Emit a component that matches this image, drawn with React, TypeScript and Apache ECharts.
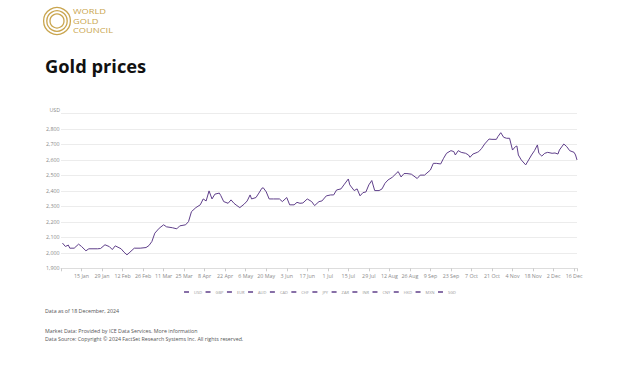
import React, { useEffect, useRef } from 'react';
import * as echarts from 'echarts';

const dates = [
  '2024-01-02', '2024-01-04', '2024-01-06', '2024-01-07', '2024-01-10', '2024-01-13', '2024-01-15', '2024-01-18',
  '2024-01-20', '2024-01-26', '2024-01-28', '2024-01-31', '2024-02-03', '2024-02-05', '2024-02-07', '2024-02-11',
  '2024-02-13', '2024-02-15', '2024-02-17', '2024-02-20', '2024-02-24', '2024-02-28', '2024-03-01', '2024-03-03',
  '2024-03-05', '2024-03-08', '2024-03-11', '2024-03-13', '2024-03-17', '2024-03-20', '2024-03-22', '2024-03-26',
  '2024-03-28', '2024-03-30', '2024-04-02', '2024-04-05', '2024-04-07', '2024-04-09', '2024-04-11', '2024-04-13',
  '2024-04-15', '2024-04-18', '2024-04-19', '2024-04-21', '2024-04-24', '2024-04-26', '2024-04-28', '2024-04-30',
  '2024-05-02', '2024-05-05', '2024-05-07', '2024-05-09', '2024-05-10', '2024-05-13', '2024-05-15', '2024-05-17',
  '2024-05-18', '2024-05-20', '2024-05-22', '2024-05-25', '2024-05-29', '2024-05-31', '2024-06-03', '2024-06-05',
  '2024-06-08', '2024-06-10', '2024-06-12', '2024-06-14', '2024-06-17', '2024-06-20', '2024-06-22', '2024-06-25',
  '2024-06-27', '2024-06-30', '2024-07-03', '2024-07-05', '2024-07-07', '2024-07-10', '2024-07-12', '2024-07-15',
  '2024-07-16', '2024-07-19', '2024-07-21', '2024-07-23', '2024-07-25', '2024-07-27', '2024-07-29', '2024-07-31',
  '2024-08-02', '2024-08-05', '2024-08-07', '2024-08-09', '2024-08-11', '2024-08-14', '2024-08-18', '2024-08-20',
  '2024-08-22', '2024-08-24', '2024-08-27', '2024-08-31', '2024-09-02', '2024-09-05', '2024-09-09', '2024-09-11',
  '2024-09-13', '2024-09-16', '2024-09-18', '2024-09-20', '2024-09-23', '2024-09-25', '2024-09-26', '2024-09-28',
  '2024-09-30', '2024-10-03', '2024-10-05', '2024-10-06', '2024-10-08', '2024-10-11', '2024-10-12', '2024-10-14',
  '2024-10-16', '2024-10-19', '2024-10-21', '2024-10-24', '2024-10-25', '2024-10-27', '2024-10-29', '2024-10-31',
  '2024-11-02', '2024-11-04', '2024-11-06', '2024-11-07', '2024-11-08', '2024-11-10', '2024-11-13', '2024-11-15',
  '2024-11-17', '2024-11-19', '2024-11-21', '2024-11-22', '2024-11-24', '2024-11-26', '2024-11-28', '2024-12-01',
  '2024-12-03', '2024-12-05', '2024-12-06', '2024-12-09', '2024-12-11', '2024-12-13', '2024-12-16', '2024-12-17',
  '2024-12-18',
];

const usdPrices = [
  2063, 2041, 2050, 2030, 2030, 2056, 2041, 2013,
  2026, 2026, 2028, 2052, 2040, 2021, 2045, 2026,
  2004, 1987, 2004, 2030, 2030, 2034, 2047, 2073,
  2127, 2159, 2181, 2168, 2162, 2155, 2174, 2181,
  2202, 2266, 2292, 2310, 2348, 2335, 2400, 2348,
  2379, 2386, 2370, 2331, 2320, 2342, 2320, 2305,
  2292, 2315, 2335, 2374, 2348, 2357, 2386, 2417,
  2420, 2394, 2348, 2348, 2348, 2331, 2357, 2310,
  2310, 2326, 2320, 2322, 2348, 2331, 2305, 2331,
  2335, 2368, 2374, 2374, 2406, 2413, 2439, 2477,
  2439, 2402, 2413, 2368, 2389, 2393, 2439, 2467,
  2402, 2402, 2413, 2449, 2470, 2488, 2525, 2490,
  2512, 2512, 2508, 2480, 2502, 2502, 2535, 2578,
  2578, 2574, 2611, 2643, 2660, 2654, 2632, 2660,
  2649, 2643, 2632, 2617, 2638, 2649, 2654, 2675,
  2703, 2735, 2733, 2733, 2750, 2776, 2746, 2740,
  2740, 2664, 2686, 2690, 2632, 2600, 2568, 2600,
  2632, 2660, 2697, 2643, 2625, 2643, 2649, 2643,
  2645, 2638, 2664, 2703, 2686, 2660, 2649, 2632,
  2600,
];

const currencies = ['USD', 'GBP', 'EUR', 'AUD', 'CAD', 'CHF', 'JPY', 'ZAR', 'INR', 'CNY', 'HKD', 'MXN', 'SGD'];

const yMin = 1900;
const yMax = 2900;
const yStep = 100;

const monthNames = ['Jan', 'Feb', 'Mar', 'Apr', 'May', 'Jun', 'Jul', 'Aug', 'Sep', 'Oct', 'Nov', 'Dec'];
const logoLines = ['WORLD', 'GOLD', 'COUNCIL'];
const titleText = 'Gold prices';
const footerNote = 'Data as of 18 December, 2024';
const sourceLine1 = 'Market Data: Provided by ICE Data Services. More information';
const sourceLine2 = 'Data Source: Copyright \u00a9 2024 FactSet Research Systems Inc. All rights reserved.';

const DAY = 86400000;
const YEAR_START = Date.UTC(2024, 0, 1);
const dayOf = (s: string) => {
  const [y, m, d] = s.split('-').map(Number);
  return Math.round((Date.UTC(y, m - 1, d) - YEAR_START) / DAY);
};
const fmtThousands = (v: number) => String(v).replace(/\B(?=(\d{3})+(?!\d))/g, ',');

const GOLD = '#c9a54e';
const LINE = '#5f3f8a';
const FONT = '"Open Sans", "Noto Sans", sans-serif';

export default function App() {
  const ref = useRef<HTMLDivElement>(null);

  useEffect(() => {
    if (!ref.current) return;
    const chart = echarts.init(ref.current, undefined, { renderer: 'svg' });
    const seriesData = dates.map((d, i) => [dayOf(d), usdPrices[i]]);

    const series: any[] = currencies.map((c, i) => ({
      name: c,
      type: 'line',
      data: i === 0 ? seriesData : [],
      showSymbol: false,
      symbol: 'none',
      lineStyle: { width: 1, color: LINE },
      itemStyle: { color: LINE },
      silent: true,
    }));

    const logoTexts = logoLines.map((t, i) => ({
      type: 'text',
      x: 73,
      y: 11.3 + i * 9.2,
      scaleX: 1.22,
      style: { text: t, fontSize: 7.6, fill: GOLD, fontFamily: FONT, verticalAlign: 'middle' },
    }));

    chart.setOption({
      animation: false,
      backgroundColor: '#ffffff',
      textStyle: { fontFamily: FONT },
      grid: { left: 61, right: 63, top: 113.5, bottom: 97.7, containLabel: false },
      xAxis: {
        type: 'value',
        min: 0,
        max: 352,
        interval: 14,
        axisLine: { show: true, lineStyle: { color: '#dddddd', width: 1 } },
        axisTick: { show: true, length: 3, lineStyle: { color: '#cccccc' } },
        splitLine: { show: false },
        axisLabel: {
          fontSize: 5.3,
          color: '#8a8a8a',
          margin: 5,
          fontFamily: FONT,
          formatter: (v: number) => {
            if (v <= 0 || v % 14 !== 0) return '';
            const d = new Date(YEAR_START + v * DAY);
            return `${d.getUTCDate()} ${monthNames[d.getUTCMonth()]}`;
          },
        },
      },
      yAxis: {
        type: 'value',
        min: yMin,
        max: yMax,
        interval: yStep,
        name: 'USD',
        nameLocation: 'end',
        nameGap: 4,
        nameTextStyle: { fontSize: 5.3, color: '#8a8a8a', align: 'right', verticalAlign: 'middle', fontFamily: FONT, padding: [0, 1, 0, 0] },
        axisLine: { show: false },
        axisTick: { show: false },
        splitLine: { show: true, lineStyle: { color: '#ececec', width: 1 } },
        axisLabel: {
          fontSize: 5.3,
          color: '#8a8a8a',
          margin: 1.5,
          fontFamily: FONT,
          formatter: (v: number) => (v === yMax ? '' : fmtThousands(v)),
        },
      },
      legend: {
        data: currencies,
        left: 'center',
        top: 290,
        icon: 'rect',
        itemWidth: 5,
        itemHeight: 1.5,
        itemGap: 3.5,
        padding: 0,
        textStyle: { fontSize: 4, color: '#999999', fontFamily: FONT },
        selectedMode: false,
      },
      series,
      graphic: [
        { type: 'circle', shape: { cx: 57, cy: 21, r: 13.4 }, style: { fill: 'none', stroke: GOLD, lineWidth: 1.3 } },
        { type: 'circle', shape: { cx: 57, cy: 21, r: 10.2 }, style: { fill: 'none', stroke: GOLD, lineWidth: 1.3 } },
        { type: 'circle', shape: { cx: 57, cy: 21, r: 7 }, style: { fill: 'none', stroke: GOLD, lineWidth: 1.3 } },
        ...logoTexts,
        { type: 'text', x: 45, y: 65, style: { text: titleText, fontSize: 18.3, fontWeight: 'bold', fill: '#111111', fontFamily: FONT, verticalAlign: 'middle' } },
        { type: 'text', x: 45, y: 311, style: { text: footerNote, fontSize: 5.3, fill: '#555555', fontFamily: FONT, verticalAlign: 'middle' } },
        { type: 'text', x: 45, y: 331, style: { text: sourceLine1, fontSize: 5.3, fill: '#555555', fontFamily: FONT, verticalAlign: 'middle' } },
        { type: 'text', x: 45, y: 338.5, style: { text: sourceLine2, fontSize: 5.3, fill: '#555555', fontFamily: FONT, verticalAlign: 'middle' } },
      ],
    });

    return () => chart.dispose();
  }, []);

  return (
    <div
      ref={ref}
      style={{ position: 'fixed', left: 0, top: 0, width: 640, height: 366, background: '#ffffff' }}
    />
  );
}
